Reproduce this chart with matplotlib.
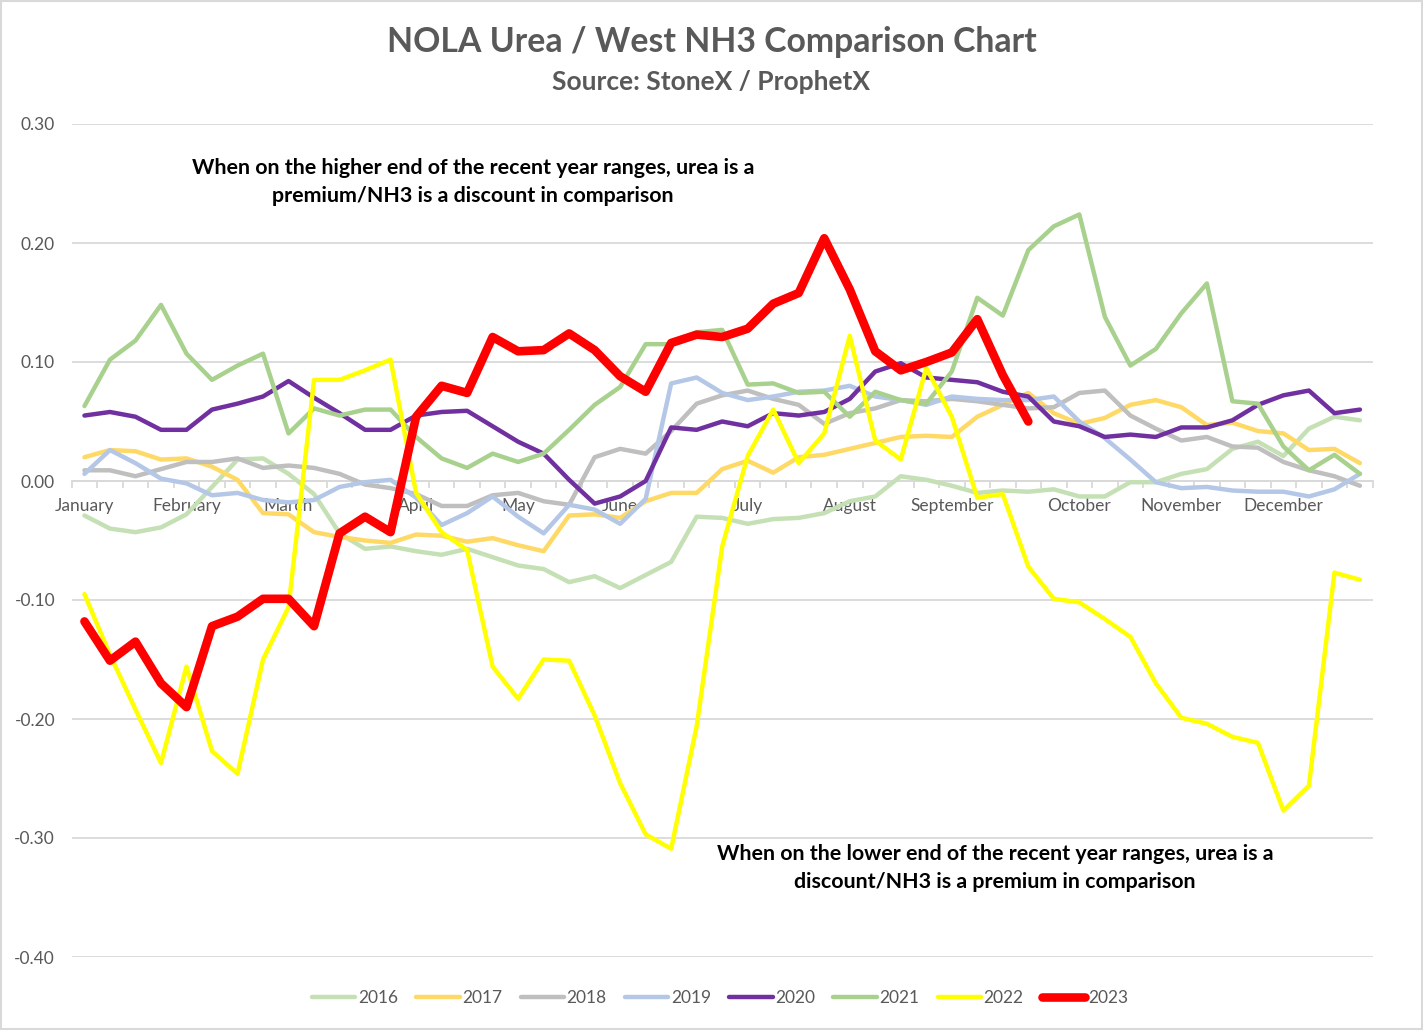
import matplotlib
matplotlib.use("Agg")
import matplotlib.pyplot as plt
from matplotlib.patches import Rectangle

plt.rcParams['font.family'] = ['Lato', 'DejaVu Sans']

month_labels = ["January", "February", "March", "April", "May", "June",
                "July", "August", "September", "October", "November", "December"]
month_index = [0, 4, 8, 13, 17, 21, 26, 30, 34, 39, 43, 47]
n_weeks = 51

years = ["2016", "2017", "2018", "2019", "2020", "2021", "2022", "2023"]

y2016 = [-0.029, -0.040, -0.043, -0.039, -0.028, -0.005, 0.018, 0.019, 0.006, -0.011,
         -0.044, -0.057, -0.055, -0.059, -0.062, -0.057, -0.064, -0.071, -0.074, -0.085,
         -0.080, -0.090, -0.079, -0.068, -0.030, -0.031, -0.036, -0.032, -0.031, -0.027,
         -0.017, -0.013, 0.004, 0.001, -0.004, -0.010, -0.008, -0.009, -0.007, -0.013,
         -0.013, -0.001, -0.001, 0.006, 0.010, 0.027, 0.033, 0.021, 0.044, 0.054, 0.051]
y2017 = [0.020, 0.026, 0.025, 0.018, 0.019, 0.012, 0.001, -0.027, -0.028, -0.043,
         -0.047, -0.050, -0.052, -0.045, -0.046, -0.051, -0.048, -0.054, -0.059, -0.029,
         -0.028, -0.031, -0.017, -0.010, -0.010, 0.010, 0.017, 0.007, 0.020, 0.022,
         0.027, 0.032, 0.037, 0.038, 0.037, 0.054, 0.064, 0.074, 0.057, 0.048,
         0.053, 0.064, 0.068, 0.062, 0.047, 0.049, 0.042, 0.040, 0.026, 0.027, 0.015]
y2018 = [0.009, 0.009, 0.004, 0.010, 0.016, 0.016, 0.019, 0.011, 0.013, 0.011,
         0.006, -0.003, -0.006, -0.011, -0.021, -0.021, -0.012, -0.010, -0.017, -0.020,
         0.020, 0.027, 0.023, 0.042, 0.065, 0.072, 0.076, 0.069, 0.064, 0.048,
         0.057, 0.061, 0.068, 0.067, 0.069, 0.067, 0.064, 0.061, 0.062, 0.074,
         0.076, 0.055, 0.044, 0.034, 0.037, 0.029, 0.028, 0.016, 0.009, 0.004, -0.004]
y2019 = [0.006, 0.026, 0.015, 0.002, -0.002, -0.012, -0.010, -0.016, -0.018, -0.016,
         -0.005, -0.001, 0.001, -0.014, -0.037, -0.027, -0.013, -0.030, -0.044, -0.020,
         -0.024, -0.036, -0.015, 0.082, 0.087, 0.074, 0.068, 0.071, 0.075, 0.076,
         0.080, 0.071, 0.068, 0.064, 0.071, 0.069, 0.068, 0.068, 0.071, 0.050,
         0.036, 0.018, -0.001, -0.006, -0.005, -0.008, -0.009, -0.009, -0.013, -0.007, 0.006]
y2020 = [0.055, 0.058, 0.054, 0.043, 0.043, 0.060, 0.065, 0.071, 0.084, 0.070,
         0.057, 0.043, 0.043, 0.055, 0.058, 0.059, 0.046, 0.033, 0.023, 0.001,
         -0.019, -0.013, 0.000, 0.045, 0.043, 0.050, 0.046, 0.057, 0.055, 0.058,
         0.069, 0.092, 0.099, 0.087, 0.085, 0.083, 0.075, 0.071, 0.050, 0.046,
         0.037, 0.039, 0.037, 0.045, 0.045, 0.051, 0.064, 0.072, 0.076, 0.057, 0.060]
y2021 = [0.063, 0.102, 0.118, 0.148, 0.107, 0.085, 0.097, 0.107, 0.040, 0.061,
         0.055, 0.060, 0.060, 0.037, 0.019, 0.011, 0.023, 0.016, 0.023, 0.043,
         0.064, 0.079, 0.115, 0.115, 0.125, 0.127, 0.081, 0.082, 0.074, 0.075,
         0.054, 0.075, 0.068, 0.065, 0.092, 0.154, 0.139, 0.194, 0.214, 0.224,
         0.138, 0.097, 0.111, 0.141, 0.166, 0.067, 0.065, 0.029, 0.009, 0.022, 0.006]
y2022 = [-0.095, -0.146, -0.192, -0.237, -0.156, -0.227, -0.246, -0.150, -0.106, 0.085,
         0.085, 0.093, 0.102, -0.010, -0.043, -0.058, -0.156, -0.183, -0.150, -0.151,
         -0.197, -0.254, -0.297, -0.309, -0.206, -0.055, 0.021, 0.060, 0.015, 0.040,
         0.122, 0.034, 0.018, 0.095, 0.054, -0.014, -0.011, -0.072, -0.099, -0.102,
         -0.116, -0.131, -0.170, -0.199, -0.204, -0.215, -0.220, -0.277, -0.256, -0.077, -0.083]
y2023 = [-0.118, -0.151, -0.135, -0.170, -0.190, -0.122, -0.114, -0.099, -0.099, -0.122,
         -0.044, -0.030, -0.043, 0.054, 0.080, 0.074, 0.121, 0.109, 0.110, 0.124,
         0.110, 0.088, 0.075, 0.116, 0.123, 0.121, 0.128, 0.149, 0.158, 0.204,
         0.161, 0.109, 0.093, 0.100, 0.108, 0.136, 0.089, 0.050]

series = [y2016, y2017, y2018, y2019, y2020, y2021, y2022, y2023]
colors = ["#C5E0B4", "#FFD966", "#BFBFBF", "#B4C7E7", "#7030A0", "#A9D18E", "#FFFF00", "#FF0000"]
widths = [3.2, 3.2, 3.2, 3.2, 3.2, 3.2, 3.2, 6.2]

y_ticks = [0.30, 0.20, 0.10, 0.00, -0.10, -0.20, -0.30, -0.40]

fig = plt.figure(figsize=(14.23, 10.30), dpi=100)
fig.patches.append(Rectangle((0.0005, 0.0005), 0.999, 0.999, transform=fig.transFigure,
                             fill=False, edgecolor="#D9D9D9", linewidth=1.5))
ax = fig.add_axes([71.7 / 1423, 73 / 1030, 1301 / 1423, 833 / 1030])

for yr, vals, c, w in zip(years, series, colors, widths):
    ax.plot(range(len(vals)), vals, color=c, linewidth=w, label=yr,
            solid_joinstyle="round", solid_capstyle="round", zorder=3)

ax.set_xlim(-0.5, n_weeks - 0.5)
ax.set_ylim(-0.40, 0.30)
ax.set_yticks(y_ticks)
ax.set_yticklabels([f"{v:.2f}" for v in y_ticks])
ax.yaxis.grid(True, color="#D9D9D9", linewidth=1.3)
ax.set_axisbelow(True)

for s in ["top", "right", "left"]:
    ax.spines[s].set_visible(False)
ax.spines["bottom"].set_position(("data", 0))
ax.spines["bottom"].set_color("#D9D9D9")
ax.spines["bottom"].set_linewidth(1.3)

ax.set_xticks(month_index)
ax.set_xticklabels(month_labels)
ax.set_xticks([i - 0.5 for i in range(n_weeks + 1)], minor=True)
ax.tick_params(axis="x", which="major", length=0, pad=12, labelsize=12.5, labelcolor="#595959")
ax.tick_params(axis="x", which="minor", length=5, width=1.3, color="#D9D9D9", direction="out")
ax.tick_params(axis="y", length=0, pad=12, labelsize=12.5, labelcolor="#595959")

fig.text(0.5, 1 - 42 / 1030, "NOLA Urea / West NH3 Comparison Chart", ha="center", va="center",
         fontsize=24.3, fontweight="bold", color="#595959")
fig.text(0.5, 1 - 82 / 1030, "Source: StoneX / ProphetX", ha="center", va="center",
         fontsize=19, fontweight="bold", color="#595959")

fig.text(473 / 1423, 1 - 182 / 1030,
         "When on the higher end of the recent year ranges, urea is a\npremium/NH3 is a discount in comparison",
         ha="center", va="center", fontsize=15.4, fontweight="bold", color="black", linespacing=1.45)
fig.text(995 / 1423, 1 - 868 / 1030,
         "When on the lower end of the recent year ranges, urea is a\ndiscount/NH3 is a premium in comparison",
         ha="center", va="center", fontsize=15.4, fontweight="bold", color="black", linespacing=1.45)

leg = fig.legend(loc="center", bbox_to_anchor=(720 / 1423, 1 - 998 / 1030), ncol=8, frameon=False,
                 fontsize=12.5, handlelength=2.5, handletextpad=0.15, columnspacing=1.05)
for t in leg.get_texts():
    t.set_color("#595959")

fig.savefig("out.png", dpi=100)
